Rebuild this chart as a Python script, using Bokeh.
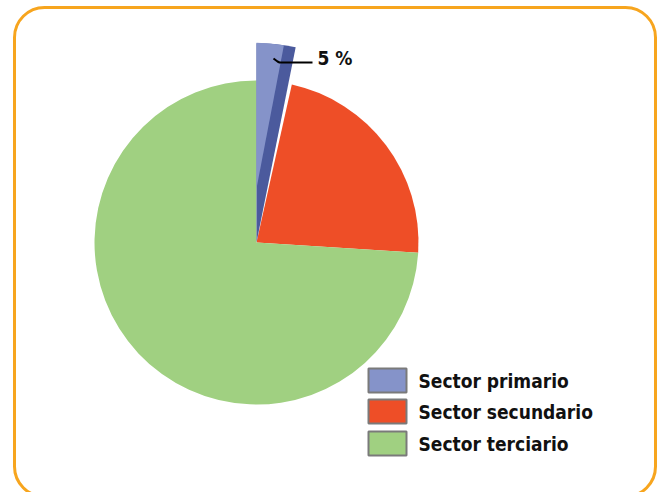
import math
from bokeh.plotting import figure
from bokeh.models import Range1d
from bokeh.core.properties import value
from bokeh.embed import file_html
from bokeh.resources import INLINE

# ---- data ----
sectors = ["Sector primario", "Sector secundario", "Sector terciario"]
shares = [3.5, 22.5, 74.0]          # slice sizes (percent)
label_primary = "5 %"
face_colors = ["#8593C9", "#EE4E27", "#A0D081"]
side_color = "#4B5A9D"

W, H = 659, 492
p = figure(width=W, height=H, output_backend="svg", toolbar_location=None,
           x_range=Range1d(0, W), y_range=Range1d(0, H), min_border=0)
p.axis.visible = False
p.grid.visible = False
p.outline_line_color = None
p.background_fill_color = "white"
p.border_fill_color = "white"

def Y(ypx):
    return H - ypx

cx, cy, r = 256, Y(242), 162

# cumulative angles, clockwise from 12 o'clock
total = sum(shares)
bounds = [0.0]
for s in shares:
    bounds.append(bounds[-1] + 360.0 * s / total)

def math_angles(t0, t1):
    return math.radians(90 - t1), math.radians(90 - t0)

# secondary and tertiary slices
for i in (1, 2):
    a0, a1 = math_angles(bounds[i], bounds[i + 1])
    p.wedge(x=[cx], y=[cy], radius=r, start_angle=a0, end_angle=a1,
            fill_color=face_colors[i], line_color=None)

# primary slice, exploded, drawn with a dark side and a light face
t0, t1 = bounds[0], bounds[1]
a0, a1 = math_angles(t0, t0 + 0.9 * (t1 - t0))
p.wedge(x=[cx], y=[cy], radius=r * 1.23, start_angle=a0, end_angle=a1,
        fill_color=side_color, line_color=None)
a0, a1 = math_angles(t0, t0 + 0.86 * (t1 - t0))
p.wedge(x=[cx], y=[cy + 54], radius=r * 0.90, start_angle=a0, end_angle=a1,
        fill_color=face_colors[0], line_color=None)

# leader line and label for primary sector
p.line(x=[273, 277, 279, 312], y=[Y(58), Y(61), Y(62), Y(62)],
       line_color="black", line_width=2)
p.text(x=[317], y=[Y(57)], text=[label_primary],
       text_font=value("DejaVu Sans Condensed"), text_font_style="bold",
       text_font_size="19px", text_baseline="middle", text_align="left",
       text_color="#111111")

# legend
lx0, lx1 = 368, 406
ly = [380, 411, 443]
for i, name in enumerate(sectors):
    p.quad(left=[lx0], right=[lx1], top=[Y(ly[i] - 12)], bottom=[Y(ly[i] + 12)],
           fill_color=face_colors[i], line_color="#7A7A7A", line_width=2)
p.text(x=[418] * 3, y=[Y(v) for v in ly], text=sectors,
       text_font=value("DejaVu Sans Condensed"), text_font_style="bold",
       text_font_size="19px", text_baseline="middle", text_align="left",
       text_color="#111111")

# rounded orange frame
p.quad(left=[14], right=[655], top=[Y(7)], bottom=[Y(496)],
       fill_color=None, line_color="#F7A51E", line_width=3, border_radius=30)

open("out.html", "w").write(file_html(p, INLINE))
